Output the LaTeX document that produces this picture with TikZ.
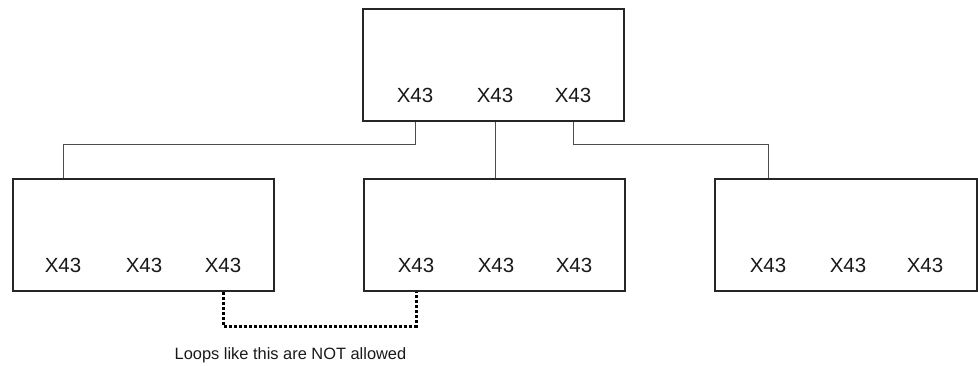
\documentclass[tikz,border=0pt]{standalone}
\usepackage{fontspec}
\setmainfont{Liberation Sans}
\begin{document}
\begin{tikzpicture}[x=1pt,y=-1pt,
  unit/.style={draw=black!85,line width=1.6pt,minimum width=261pt,minimum height=112pt,inner sep=0pt},
  lbl/.style={font=\fontsize{20.5}{24}\selectfont,text=black!90,anchor=base,inner sep=0pt},
  link/.style={draw=black!70,line width=0.9pt},
  loop/.style={draw=black,line width=3pt,dash pattern=on 3pt off 2pt}]
\useasboundingbox (0,0) rectangle (978,365);
\node[unit] (top) at (493.5,65) {};
\node[unit] (lft) at (143.5,235) {};
\node[unit] (mid) at (494.5,235) {};
\node[unit,minimum width=262pt] (rgt) at (846,235) {};
\node[lbl] (t1) at (415,102) {X43};
\node[lbl] (t2) at (495,102) {X43};
\node[lbl] (t3) at (573,102) {X43};
\node[lbl] (l1) at (63,272) {X43};
\node[lbl] (l2) at (144,272) {X43};
\node[lbl] (l3) at (223,272) {X43};
\node[lbl] (m1) at (416,272) {X43};
\node[lbl] (m2) at (496,272) {X43};
\node[lbl] (m3) at (574,272) {X43};
\node[lbl] (r1) at (768,272) {X43};
\node[lbl] (r2) at (848,272) {X43};
\node[lbl] (r3) at (925,272) {X43};
\coordinate (h) at (0,144);
\coordinate (d) at (0,326);
\draw[link] (t1.center |- top.south) -- (t1.center |- h) -| (l1.center |- lft.north);
\draw[link] (t2.center |- top.south) -- (t2.center |- mid.north);
\draw[link] (t3.center |- top.south) -- (t3.center |- h) -| (r1.center |- rgt.north);
\draw[loop] (l3.center |- lft.south) -- (l3.center |- d) -| (m1.center |- mid.south);
\node[font=\fontsize{16.4}{20}\selectfont,text=black!90,anchor=base,inner sep=0pt] (note) at (290.5,359) {Loops like this are NOT allowed};
\end{tikzpicture}
\end{document}
